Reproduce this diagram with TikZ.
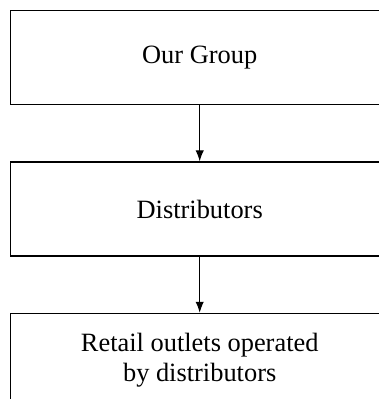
\documentclass[tikz,border=0pt]{standalone}
\usepackage{fontspec}
\setmainfont{Liberation Serif}
\usetikzlibrary{positioning,arrows.meta}

\begin{document}
\begin{tikzpicture}[
                x=1pt, y=1pt,
                node distance=28pt,
                every node/.style={draw, line width=0.7pt, minimum width=189pt, minimum height=47pt,
                                   inner sep=0pt, align=center, font=\fontsize{13.2}{15}\selectfont},
                flow/.style={line width=0.6pt, -{Latex[length=5.5pt,width=4.2pt]}}
            ]
            \useasboundingbox (0,0) rectangle (189,-199.5);

            \node[anchor=north west] (group) at (5,-5) {Our Group};
            \node[below=of group] (distrib) {Distributors};
            \node[below=of distrib] (outlets) {Retail outlets operated\\by distributors};

            \draw[flow] (group) -- (distrib);
            \draw[flow] (distrib) -- (outlets);

        \end{tikzpicture}
\end{document}
